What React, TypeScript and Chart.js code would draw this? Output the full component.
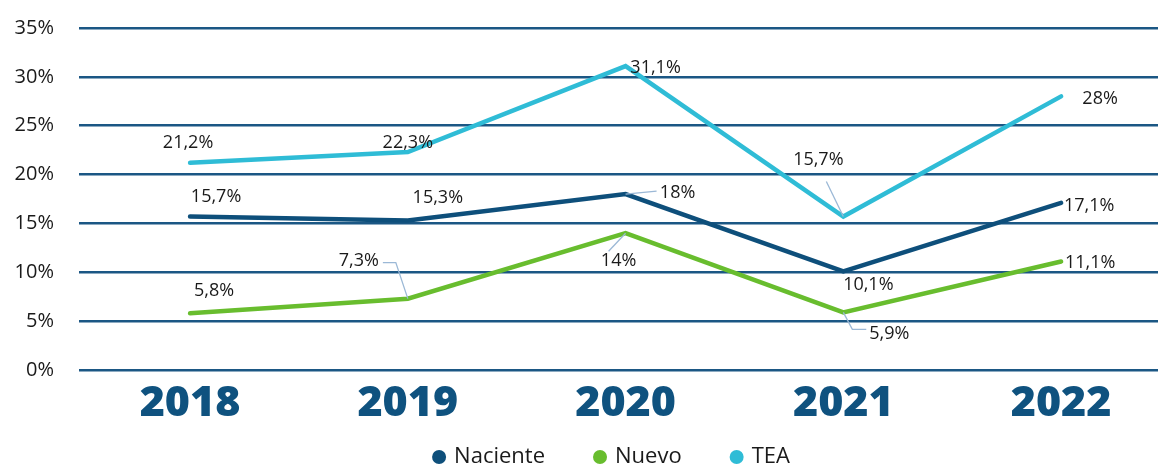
import React, { useEffect, useRef } from "react";
import { Chart, registerables } from "chart.js";

Chart.register(...registerables);

const years = ["2018", "2019", "2020", "2021", "2022"];
const naciente = [15.7, 15.3, 18, 10.1, 17.1];
const nuevo = [5.8, 7.3, 14, 5.9, 11.1];
const tea = [21.2, 22.3, 31.1, 15.7, 28];
const yTicks = [0, 5, 10, 15, 20, 25, 30, 35];

// label placement: [dx, dy, leaderKind, leaderDx, leaderDy] relative to the point
const nacienteLabelPos = [[26, -20, 0, 0, 0], [30, -23, 0, 0, 0], [52, -1, 1, 31, -3], [25, 14, 0, 0, 0], [28, 3, 0, 0, 0]];
const nuevoLabelPos = [[24, -22, 0, 0, 0], [-49, -38, 2, -12, -36], [-7, 28, 1, -17, 18], [46, 22, 2, 9, 17], [29, 1, 0, 0, 0]];
const teaLabelPos = [[-2, -20, 0, 0, 0], [0, -9, 0, 0, 0], [30, 2, 0, 0, 0], [-25, -57, 1, -17, -35], [39, 2, 0, 0, 0]];

const fmt = (v: number) => String(v).replace(".", ",") + "%";
const FONT = "'Open Sans', 'Noto Sans', sans-serif";

export default function App() {
  const ref = useRef<HTMLCanvasElement | null>(null);
  useEffect(() => {
    document.body.style.margin = "0";
    const labelPlugin = {
      id: "labels",
      afterDatasetsDraw(chart: any) {
        const ctx = chart.ctx;
        const posSets = [nacienteLabelPos, nuevoLabelPos, teaLabelPos];
        chart.data.datasets.forEach((ds: any, di: number) => {
          const meta = chart.getDatasetMeta(di);
          meta.data.forEach((pt: any, i: number) => {
            const [dx, dy, kind, ex, ey] = posSets[di][i];
            const tx = pt.x + dx;
            const ty = pt.y + dy;
            ctx.save();
            ctx.font = `18px ${FONT}`;
            const text = fmt(ds.data[i].y);
            const w = ctx.measureText(text).width;
            if (kind) {
              ctx.strokeStyle = "#9bb8d6";
              ctx.lineWidth = 1.3;
              ctx.beginPath();
              ctx.moveTo(pt.x, pt.y);
              ctx.lineTo(pt.x + ex, pt.y + ey);
              if (kind === 2) {
                const edge = dx < 0 ? tx + w / 2 + 4 : tx - w / 2 - 3;
                ctx.lineTo(edge, pt.y + ey);
              }
              ctx.stroke();
            }
            ctx.fillStyle = "#1a1a1a";
            ctx.textAlign = "center";
            ctx.textBaseline = "middle";
            ctx.fillText(text, tx, ty);
            ctx.restore();
          });
        });
      },
    };

    const legendPlugin = {
      id: "customLegend",
      afterDraw(chart: any) {
        const ctx = chart.ctx;
        ctx.save();
        ctx.font = `22px ${FONT}`;
        const items = chart.data.datasets.map((ds: any) => ({
          label: ds.label,
          color: ds.borderColor,
          w: ctx.measureText(ds.label).width,
        }));
        const r = 7;
        const gapDot = 8;
        const gapItem = 48;
        const total =
          items.reduce((a: number, it: any) => a + 2 * r + gapDot + it.w, 0) + gapItem * (items.length - 1);
        let x = 611 - total / 2;
        const y = 457;
        items.forEach((it: any) => {
          ctx.fillStyle = it.color;
          ctx.beginPath();
          ctx.arc(x + r, y, r, 0, Math.PI * 2);
          ctx.fill();
          ctx.fillStyle = "#1a1a1a";
          ctx.textAlign = "left";
          ctx.textBaseline = "middle";
          ctx.fillText(it.label, x + 2 * r + gapDot, y);
          x += 2 * r + gapDot + it.w + gapItem;
        });
        ctx.restore();
      },
    };

    const mk = (label: string, vals: number[], color: string) => ({
      label,
      data: vals.map((v, i) => ({ x: i, y: v })),
      borderColor: color,
      backgroundColor: color,
      borderWidth: 4.5,
      borderCapStyle: "round",
      pointRadius: 0,
      pointHoverRadius: 0,
      tension: 0,
    });

    const chart = new Chart(ref.current!, {
      type: "line",
      data: {
        datasets: [
          mk("Naciente", naciente, "#0e4f7b"),
          mk("Nuevo", nuevo, "#68bd2e"),
          mk("TEA", tea, "#2fbcd6"),
        ] as any,
      },
      plugins: [labelPlugin, legendPlugin],
      options: {
        animation: false,
        responsive: false,
        layout: { padding: { top: 28, right: 3, left: 0, bottom: 0 } },
        plugins: {
          tooltip: { enabled: false },
          legend: { display: false },
        },
        scales: {
          x: {
            type: "linear",
            min: -0.51,
            max: 4.445,
            afterBuildTicks: (s: any) => {
              s.ticks = years.map((_, i) => ({ value: i }));
            },
            afterFit: (s: any) => {
              s.height = 95;
              s.paddingTop = 0;
              s.paddingBottom = 0;
              s.paddingLeft = 0;
              s.paddingRight = 0;
            },
            ticks: {
              callback: (v: any) => years[v as number] ?? "",
              color: "#0f527f",
              font: { size: 43, weight: "800", family: FONT },
              padding: 0,
              maxRotation: 0,
              autoSkip: false,
            },
            grid: { display: false },
            border: { display: false },
          },
          y: {
            min: 0,
            max: 35,
            afterBuildTicks: (s: any) => {
              s.ticks = yTicks.map((v) => ({ value: v }));
            },
            afterFit: (s: any) => {
              s.width = 79;
              s.paddingTop = 0;
              s.paddingBottom = 0;
            },
            ticks: {
              callback: (v: any) => v + "%",
              color: "#1a1a1a",
              font: { size: 20, family: FONT },
              padding: 25,
            },
            grid: { color: "#1b5784", lineWidth: 2.5, drawTicks: false },
            border: { display: false },
          },
        },
      } as any,
    });
    return () => chart.destroy();
  }, []);
  return <canvas ref={ref} width={1161} height={465} style={{ display: "block" }} />;
}
